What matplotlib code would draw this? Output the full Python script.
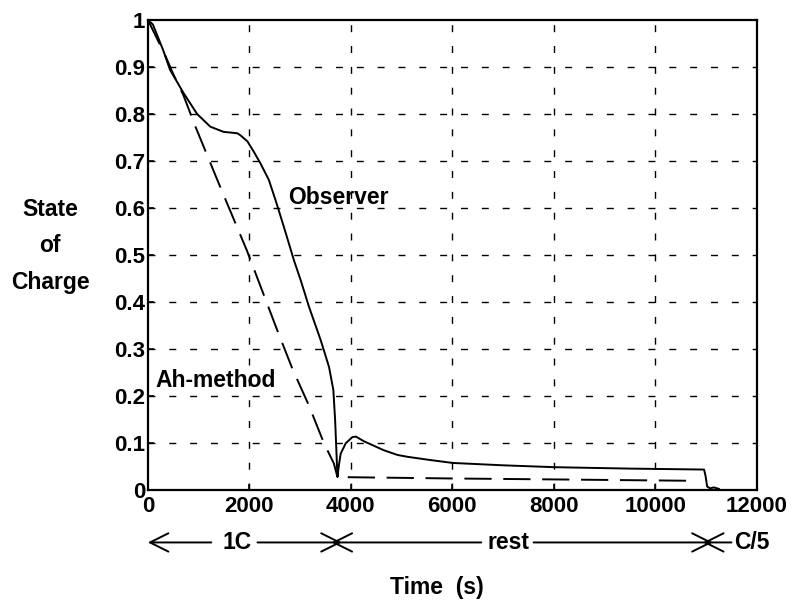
import matplotlib
matplotlib.use("Agg")
import matplotlib.pyplot as plt
import matplotlib.transforms as mtransforms

plt.rcParams['font.family'] = ['Liberation Sans', 'DejaVu Sans']
plt.rcParams['font.weight'] = 'bold'

# Observer estimate (solid)
obs_t = [0, 100, 300, 436, 700, 970, 1230, 1490, 1760, 1820, 1960, 2086, 2218,
         2383, 2515, 2680, 2878, 3010, 3175, 3406, 3570, 3655, 3690, 3717, 3736,
         3760, 3800, 3900, 4030, 4100, 4260, 4650, 4920, 5120, 5580, 6010, 7000,
         8020, 9500, 10960, 10990, 11020, 11080, 11150, 11250]
obs_soc = [1.0, 0.99, 0.936, 0.894, 0.845, 0.80, 0.773, 0.762, 0.759, 0.755,
           0.742, 0.720, 0.695, 0.66, 0.617, 0.560, 0.489, 0.447, 0.39, 0.319,
           0.262, 0.213, 0.149, 0.078, 0.028, 0.05, 0.078, 0.10, 0.113, 0.114,
           0.104, 0.085, 0.075, 0.071, 0.064, 0.058, 0.053, 0.049, 0.046, 0.044,
           0.03, 0.008, 0.004, 0.006, 0.003]

# Ah-method (dashed)
ah_t = [0, 340, 500, 700, 930, 1425, 1950, 2550, 2845, 3170, 3470, 3665, 3736,
        6000, 8000, 10800]
ah_soc = [1.0, 0.925, 0.885, 0.84, 0.775, 0.645, 0.51, 0.34, 0.259, 0.181,
          0.10, 0.057, 0.028, 0.025, 0.023, 0.02]

x_ticks = [0, 2000, 4000, 6000, 8000, 10000, 12000]
x_labels = ['0', '2000', '4000', '6000', '8000', '10000', '12000']
y_ticks = [0, 0.1, 0.2, 0.3, 0.4, 0.5, 0.6, 0.7, 0.8, 0.9, 1.0]
y_labels = ['0', '0.1', '0.2', '0.3', '0.4', '0.5', '0.6', '0.7', '0.8', '0.9', '1']

fig = plt.figure(figsize=(7.95, 6.03), dpi=100)
ax = fig.add_axes([0.186, 0.187, 0.766, 0.780])

# grid (only interior lines)
for xv in x_ticks[1:-1]:
    ax.axvline(xv, color='black', lw=1.0, dashes=(5, 10), zorder=1)
for yv in y_ticks[1:-1]:
    ax.axhline(yv, color='black', lw=1.0, dashes=(5, 10), zorder=1)

ax.plot(obs_t, obs_soc, color='black', lw=1.4, zorder=3)
ax.plot(ah_t, ah_soc, color='black', lw=1.4, dashes=(14, 6), zorder=3)

ax.set_xlim(0, 12000)
ax.set_ylim(0, 1)
ax.set_xticks(x_ticks)
ax.set_xticklabels(x_labels)
ax.set_yticks(y_ticks)
ax.set_yticklabels(y_labels)
ax.tick_params(direction='in', length=4, width=1.2, labelsize=16)
ax.tick_params(axis='y', pad=2)
ax.tick_params(axis='x', pad=4)
for sp in ax.spines.values():
    sp.set_linewidth(1.6)

ax.text(2770, 0.623, 'Observer', fontsize=16.5, fontweight='bold', va='center')
ax.text(140, 0.234, 'Ah-method', fontsize=16.5, fontweight='bold', va='center')

fig.text(50 / 795, 1 - 246 / 603, 'State\nof\nCharge', fontsize=16.5,
         fontweight='bold', ha='center', va='center', linespacing=1.75)

# phase annotations below the x axis (heads overlap to form the crosses)
trans = mtransforms.blended_transform_factory(ax.transData, ax.transAxes)
yrow = -0.111
arrow = dict(arrowstyle='->, head_length=0.6, head_width=0.3', lw=1.4,
             color='black', shrinkA=0, shrinkB=0, mutation_scale=22)
segments = [(1250, 0), (2160, 3820), (6570, 3620), (7600, 11130), (11500, 10940)]
for start, end in segments:
    ax.annotate('', xy=(end, yrow), xytext=(start, yrow), xycoords=trans,
                textcoords=trans, arrowprops=arrow, annotation_clip=False)
ax.text(1760, yrow, '1C', transform=trans, fontsize=16.5, fontweight='bold',
        ha='center', va='center')
ax.text(7110, yrow, 'rest', transform=trans, fontsize=16.5, fontweight='bold',
        ha='center', va='center')
ax.text(11560, yrow, 'C/5', transform=trans, fontsize=16.5, fontweight='bold',
        ha='left', va='center')
ax.text(5700, -0.206, 'Time  (s)', transform=trans, fontsize=16.5,
        fontweight='bold', ha='center', va='center')

fig.savefig('out.png', dpi=100)
